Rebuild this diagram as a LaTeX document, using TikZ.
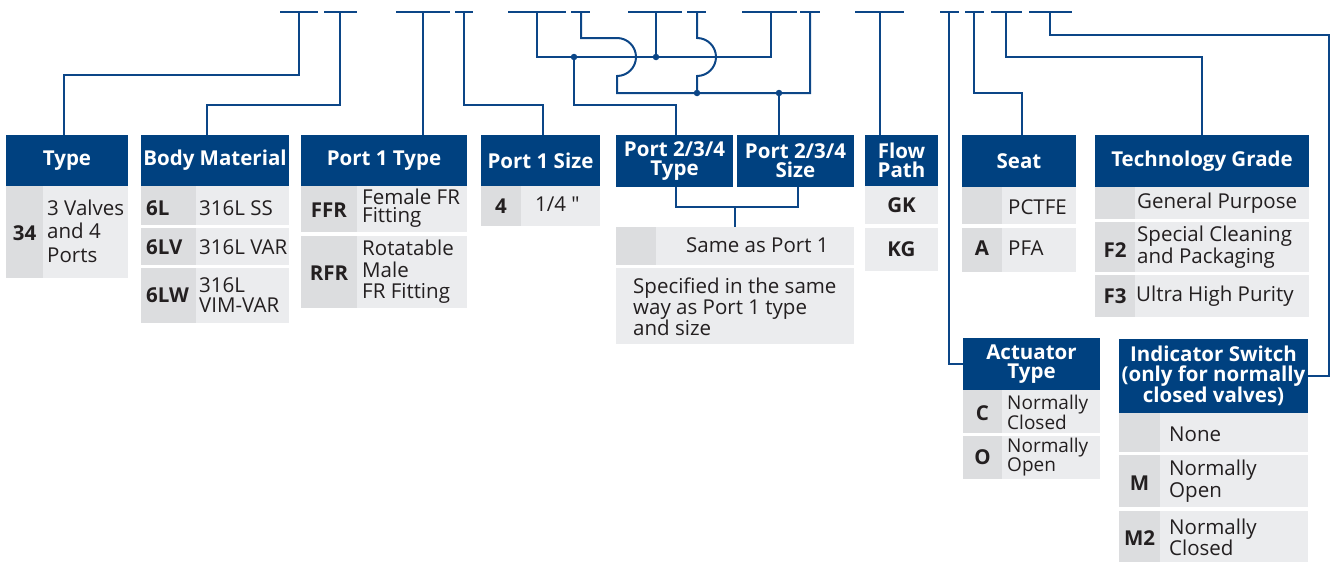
\documentclass[tikz,border=0pt]{standalone}
\usepackage{fontspec}
\setmainfont{Open Sans}
\definecolor{hdrblue}{RGB}{0,65,128}
\definecolor{lineblue}{RGB}{12,70,135}
\definecolor{codeg}{RGB}{220,221,223}
\definecolor{descg}{RGB}{235,236,238}
\definecolor{txt}{RGB}{35,31,32}
\newcommand{\tabrow}[5]{\fill[codeg] (#1,#4) rectangle (#2,#5); \fill[descg] (#2,#4) rectangle (#3,#5);}
\begin{document}
\begin{tikzpicture}[x=1pt,y=-1pt,
  hdr/.style={fill=hdrblue, text=white, font=\fontsize{20.5}{19}\selectfont\bfseries, inner sep=0pt, align=center},
  conn/.style={draw=lineblue, line width=2pt},
  code/.style={font=\fontsize{20.5}{20}\selectfont\bfseries, text=txt, inner sep=0pt},
  desc/.style={font=\fontsize{20.5}{20}\selectfont, text=txt, inner sep=0pt, anchor=west, align=left},
  dot/.style={circle, fill=lineblue, inner sep=0pt, minimum size=6.5pt}]
\useasboundingbox (0,0) rectangle (1330,562);
% ---------- headers ----------
\node[hdr, minimum width=122pt, minimum height=51pt] (type) at (67,160.5) {Type};
\node[hdr, minimum width=148pt, minimum height=51pt] (body) at (215,160.5) {Body Material};
\node[hdr, minimum width=166pt, minimum height=51pt] (p1t) at (384,160.5) {Port 1 Type};
\node[hdr, minimum width=119pt, minimum height=51pt] (p1s) at (540.5,160.5) {Port 1 Size};
\node[hdr, minimum width=117pt, minimum height=52pt] (p2t) at (674.5,161) {Port 2/3/4\\Type};
\node[hdr, minimum width=117pt, minimum height=52pt] (p2s) at (795.5,161) {Port 2/3/4\\Size};
\node[hdr, minimum width=73pt, minimum height=51pt] (flow) at (901.5,160.5) {Flow\\Path};
\node[hdr, minimum width=114pt, minimum height=52pt] (seat) at (1019,161) {Seat};
\node[hdr, minimum width=214pt, minimum height=52pt] (tech) at (1202,161) {Technology Grade};
\node[hdr, minimum width=137pt, minimum height=52pt] (act) at (1031.5,364) {Actuator\\Type};
\node[hdr, minimum width=189pt, minimum height=74pt, font=\fontsize{20.5}{19.5}\selectfont\bfseries] (ind) at (1213.5,376) {Indicator Switch\\(only for normally\\closed valves)};
% ---------- table rows ----------
\tabrow{6}{43}{128}{186}{278}
\tabrow{141}{196}{289}{186}{225}
\tabrow{141}{196}{289}{228}{265}
\tabrow{141}{196}{289}{268}{323}
\tabrow{301}{357}{467}{186}{232}
\tabrow{301}{357}{467}{236}{308}
\tabrow{481}{521}{600}{186}{226}
\tabrow{616}{656}{854}{227}{265}
\fill[descg] (616,268) rectangle (854,344);
\fill[descg] (865,186) rectangle (938,224);
\fill[descg] (865,228) rectangle (938,271);
\tabrow{962}{1002}{1076}{187}{224}
\tabrow{962}{1002}{1076}{228}{272}
\tabrow{1095}{1135}{1309}{187}{219}
\tabrow{1095}{1135}{1309}{222}{272}
\tabrow{1095}{1135}{1309}{275}{317}
\tabrow{963}{1002}{1100}{390}{433}
\tabrow{963}{1002}{1100}{436}{479}
\tabrow{1119}{1160}{1308}{413}{452}
\tabrow{1119}{1160}{1308}{455}{507}
\tabrow{1119}{1160}{1308}{511}{562}
% ---------- codes ----------
\node[code] (c34) at (24.5,233) {34};
\node[code, anchor=west] (c6l) at (146,208) {6L};
\node[code, anchor=west] (c6lv) at (146,247) {6LV};
\node[code, anchor=west] (c6lw) at (146,295) {6LW};
\node[code] (cffr) at (329,210) {FFR};
\node[code] (crfr) at (329,273) {RFR};
\node[code] (c4) at (501,206) {4};
\node[code] (cgk) at (901.5,205) {GK};
\node[code] (ckg) at (901.5,249) {KG};
\node[code] (ca) at (982,248) {A};
\node[code] (cf2) at (1115,250) {F2};
\node[code] (cf3) at (1115,296) {F3};
\node[code] (cc) at (982.5,413) {C};
\node[code] (co) at (982.5,457) {O};
\node[code] (cm) at (1139.5,483) {M};
\node[code] (cm2) at (1139.5,538) {M2};
% ---------- descriptions ----------
\node[desc, font=\fontsize{20.5}{23.5}\selectfont] (d34) at (47,231) {3 Valves\\and 4\\Ports};
\node[desc] (d6l) at (199,208) {316L SS};
\node[desc] (d6lv) at (199,247) {316L VAR};
\node[desc] (d6lw) at (199,295) {316L\\VIM-VAR};
\node[desc, font=\fontsize{20.5}{18}\selectfont] (dffr) at (362,208) {Female FR\\Fitting};
\node[desc, font=\fontsize{20.5}{21.5}\selectfont] (drfr) at (362,272) {Rotatable\\Male\\FR Fitting};
\node[desc] (d4) at (535,204) {1/4 \textquotedbl};
\node[desc] (dsame) at (686,245) {Same as Port 1};
\node[desc, font=\fontsize{20.5}{21}\selectfont] (dspec) at (633,307) {Specified in the same\\way as Port 1 type\\and size};
\node[desc] (dpctfe) at (1008,207) {PCTFE};
\node[desc] (dpfa) at (1008,248) {PFA};
\node[desc] (dgen) at (1137,203) {General Purpose};
\node[desc, font=\fontsize{20.5}{18}\selectfont] (df2) at (1137,247) {Special Cleaning\\and Packaging};
\node[desc] (df3) at (1136,296) {Ultra High Purity};
\node[desc, font=\fontsize{19}{18}\selectfont] (dc) at (1007,412) {Normally\\Closed};
\node[desc, font=\fontsize{19}{19}\selectfont] (do) at (1007,457.5) {Normally\\Open};
\node[desc] (dnone) at (1169,434) {None};
\node[desc, font=\fontsize{20.5}{22}\selectfont] (dm) at (1169,481) {Normally\\Open};
\node[desc, font=\fontsize{20.5}{21}\selectfont] (dm2) at (1169,537.5) {Normally\\Closed};
% ---------- top blanks ----------
\foreach \a/\b/\t/\n in {280/318/299/1, 324/357/340/2, 396/450/423/3, 455/473/464/4, 508/566/537/5, 571/590/581/6, 628/682/656/7, 687/706/697/8, 742/797/771/9, 800/820/810/10, 855/904/880/11, 940/959/949/12, 965/984/974/13, 991/1022/1006/14, 1029/1072/1050/15}{
  \coordinate (t\n) at (\t,12);
  \draw[conn] (\a,12) -- (\b,12);
}
% ---------- connectors ----------
\draw[conn] (t1) -- ++(0,63) -| ([xshift=-3pt]type.north);
\draw[conn] (t2) -- ++(0,93) -| ([xshift=-8pt]body.north);
\draw[conn] (t3) -- (t3 |- p1t.north);
\draw[conn] (t4) -- ++(0,93) -| ([xshift=2.5pt]p1s.north);
\coordinate (jA) at (574,57);
\coordinate (jB) at (656,57);
\coordinate (jC) at (697,93);
\coordinate (jD) at (779,93);
\draw[conn] (t5) |- (jA) -- (jB) -| (t9);
\draw[conn] (t7) -- (jB);
\draw[conn] (t6) |- (617,38) arc[start angle=-90, end angle=90, radius=19] -- (617,93) -| (t10);
\draw[conn] (t8) -- (697,38) arc[start angle=-90, end angle=90, radius=19] -- (jC);
\draw[conn] (jA) -- ++(0,48) -| ([xshift=1.5pt]p2t.north);
\draw[conn] (jD) -- (jD |- p2s.north);
\node[dot] (dotA) at (jA) {};
\node[dot] (dotB) at (jB) {};
\node[dot] (dotC) at (jC) {};
\node[dot] (dotD) at (jD) {};
\coordinate (pm) at (735,207);
\coordinate (sametop) at (735,227);
\draw[conn] ([xshift=1.5pt]p2t.south) |- (pm) -| ([xshift=2.5pt]p2s.south);
\draw[conn] (pm) -- (sametop);
\draw[conn] (t11) -- (t11 |- flow.north);
\draw[conn] (t12) |- (act.west);
\draw[conn] (t13) -- ++(0,81) -| ([xshift=3pt]seat.north);
\draw[conn] (t14) -- ++(0,45) -| (tech.north);
\draw[conn] (t15) -- ++(0,23) -| ([xshift=21pt]ind.east) -- (ind.east);
\end{tikzpicture}
\end{document}
